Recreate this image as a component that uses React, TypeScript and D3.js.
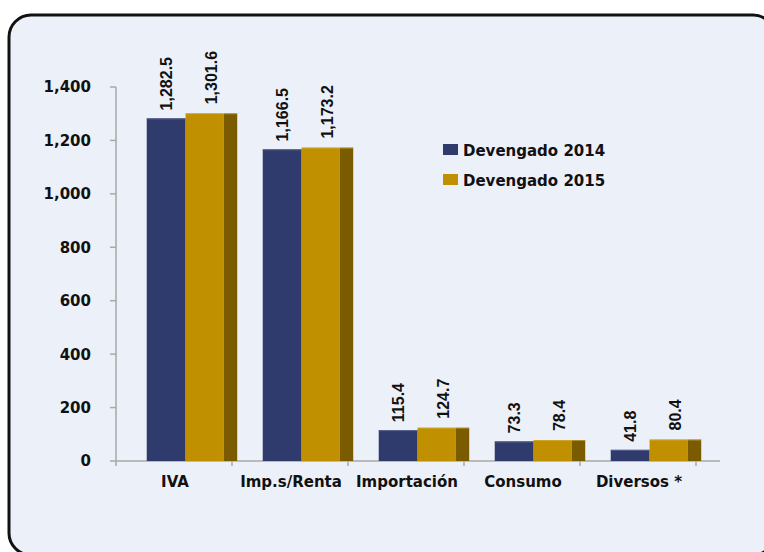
import React from 'react';
import * as d3 from 'd3';

const categories = ['IVA', 'Imp.s/Renta', 'Importación', 'Consumo', 'Diversos *'];
const devengado2014 = [1282.5, 1166.5, 115.4, 73.3, 41.8];
const devengado2015 = [1301.6, 1173.2, 124.7, 78.4, 80.4];
const seriesNames = ['Devengado 2014', 'Devengado 2015'];
const yTicks = [0, 200, 400, 600, 800, 1000, 1200, 1400];

const W = 764, H = 552;
const BLUE = '#2f3b6d', GOLD = '#c09000', SIDE = '#7a5b00';

const App = () => {
  const x = d3.scaleBand<string>().domain(categories).range([116, 696]);
  const y = d3.scaleLinear().domain([0, 1400]).range([461, 87]);
  const bw = x.bandwidth();
  const fmt = d3.format(',.1f');
  const tickFmt = d3.format(',');
  const boldFont = '"DejaVu Sans", Verdana, sans-serif';
  const valFont = '"Liberation Sans Narrow", "Arial Narrow", "Liberation Sans", sans-serif';

  return (
    <svg width={W} height={H} style={{ position: 'absolute', left: 0, top: 0 }}>
      <rect x={0} y={0} width={W} height={H} fill="#fff" />
      <rect x={9} y={15} width={766} height={540} rx={22} fill="#ecf0f8" stroke="#111" strokeWidth={3} />

      {/* y axis */}
      <line x1={116} x2={116} y1={y(1400)} y2={y(0)} stroke="#a8a8a8" strokeWidth={1.5} />
      {yTicks.map(t => (
        <g key={t}>
          <line x1={110} x2={116} y1={y(t)} y2={y(t)} stroke="#a8a8a8" strokeWidth={1.5} />
          <text x={91} y={y(t)} dy="0.36em" textAnchor="end" fontFamily={boldFont} fontWeight="bold" fontSize={15} fill="#111">
            {tickFmt(t)}
          </text>
        </g>
      ))}

      {/* x axis */}
      <line x1={116} x2={720} y1={y(0)} y2={y(0)} stroke="#a8a8a8" strokeWidth={1.5} />
      {categories.map((c, i) => (
        <line key={'t' + i} x1={x(c)! + bw} x2={x(c)! + bw} y1={y(0)} y2={y(0) + 5} stroke="#a8a8a8" strokeWidth={1.5} />
      ))}
      <line x1={116} x2={116} y1={y(0)} y2={y(0) + 5} stroke="#a8a8a8" strokeWidth={1.5} />

      {categories.map((c, i) => {
        const x0 = x(c)!;
        const bx = x0 + bw * 0.265;
        const gx = bx + bw * 0.335;
        const sw = bw * 0.115;
        const gw = bw * 0.33;
        const b = devengado2014[i], g = devengado2015[i];
        return (
          <g key={c}>
            <rect x={bx} y={y(b)} width={bw * 0.335} height={y(0) - y(b)} fill={BLUE} />
            <line x1={bx} x2={gx} y1={y(b) + 0.5} y2={y(b) + 0.5} stroke="#59618e" />
            <rect x={gx} y={y(g)} width={gw} height={y(0) - y(g)} fill={GOLD} />
            <rect x={gx + gw} y={y(g)} width={sw} height={y(0) - y(g)} fill={SIDE} />
            <line x1={gx} x2={gx + gw + sw} y1={y(g) + 0.5} y2={y(g) + 0.5} stroke="#d8b440" strokeOpacity={0.6} />
            <text transform={`translate(${bx + bw * 0.335 / 2},${y(b) - 8}) rotate(-90)`} dy="0.35em"
              fontFamily={valFont} fontWeight="bold" fontSize={16} fill="#111">{fmt(b)}</text>
            <text transform={`translate(${gx + (gw + sw) / 2},${y(g) - 9}) rotate(-90)`} dy="0.35em"
              fontFamily={valFont} fontWeight="bold" fontSize={16} fill="#111">{fmt(g)}</text>
            <text x={x0 + bw / 2 + 1} y={487} textAnchor="middle" fontFamily={boldFont} fontWeight="bold" fontSize={15} fill="#111">{c}</text>
          </g>
        );
      })}

      {/* legend */}
      {seriesNames.map((s, i) => (
        <g key={s} transform={`translate(443,${144 + i * 30})`}>
          <rect x={0} y={0} width={15} height={11} fill={i === 0 ? BLUE : GOLD} />
          <text x={20} y={12} fontFamily={boldFont} fontWeight="bold" fontSize={15} fill="#111">{s}</text>
        </g>
      ))}
    </svg>
  );
};

export default App;
